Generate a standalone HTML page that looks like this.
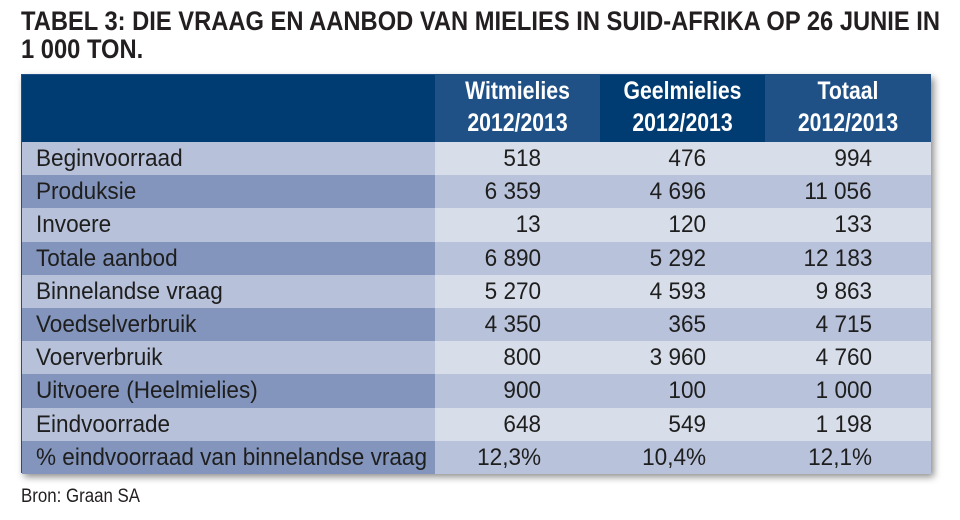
<!DOCTYPE html>
<html><head><meta charset="utf-8">
<style>
body{margin:0;width:960px;height:520px;background:#fff;position:relative;overflow:hidden;font-family:"Liberation Sans",sans-serif;}
.t{position:absolute;white-space:nowrap;line-height:1;}
.title{font-weight:bold;font-size:27px;color:#231f20;left:21px;transform-origin:0 0;}
#tbl{position:absolute;left:21px;top:74px;width:910px;height:399px;box-shadow:3px 4px 7px rgba(0,0,0,0.45);border:1px solid #1f4f86;box-sizing:border-box;}
.cell{position:absolute;}
.hd{color:#fff;font-weight:bold;font-size:25px;text-align:center;}
.lbl{font-size:24px;color:#1e1e1e;transform-origin:0 50%;}
.num{font-size:24px;color:#1e1e1e;transform-origin:100% 50%;}
</style></head><body>
<div class="t title" id="ti1" style="top:8px">TABEL 3: DIE VRAAG EN AANBOD VAN MIELIES IN SUID-AFRIKA OP 26 JUNIE IN</div>
<div class="t title" id="ti2" style="top:36px">1 000 TON.</div>
<div id="tbl"></div>
<div class="t" id="src" style="left:21px;top:487px;font-size:19px;color:#231f20;transform-origin:0 0">Bron: Graan SA</div>
<script>
const labels=["Beginvoorraad","Produksie","Invoere","Totale aanbod","Binnelandse vraag","Voedselverbruik","Voerverbruik","Uitvoere (Heelmielies)","Eindvoorrade","% eindvoorraad van binnelandse vraag"];
const witValues=["518","6 359","13","6 890","5 270","4 350","800","900","648","12,3%"];
const geelValues=["476","4 696","120","5 292","4 593","365","3 960","100","549","10,4%"];
const totaalValues=["994","11 056","133","12 183","9 863","4 715","4 760","1 000","1 198","12,1%"];
const headers=[["Witmielies","2012/2013"],["Geelmielies","2012/2013"],["Totaal","2012/2013"]];

const tbl=document.getElementById('tbl');
const colX=[0,413,578,743,909];
const headH=67, rowH=33.2;
const hdColors=["#003b71","#1f5187","#003b71","#1f5187"];
function mk(cls,css,txt){const d=document.createElement('div');d.className=cls;Object.assign(d.style,css);if(txt!==undefined)d.textContent=txt;tbl.appendChild(d);return d;}
const hdNodes=[];
for(let c=0;c<4;c++){
  const h=mk('cell',{left:colX[c]+'px',top:'0px',width:(colX[c+1]-colX[c])+'px',height:headH+'px',background:hdColors[c]});
  
  
  if(c>0){
    headers[c-1].forEach((s,i)=>{
      const t=document.createElement('div');t.className='t hd';
      t.style.left='0';t.style.width='100%';t.style.top=(4+i*32)+'px';
      t.textContent=s;
      
      
      h.appendChild(t);
      hdNodes.push(t);
    });
  }
}
const series=[witValues,geelValues,totaalValues];
const numRight=[541,706,872];
const lblNodes=[],numNodes=[];
labels.forEach((lab,r)=>{
  const y=headH+r*rowH;
  const dark=r%2===1;
  const lc=mk('cell',{left:'0px',top:y+'px',width:colX[1]+'px',height:(rowH+0.5)+'px',background:dark?'#8395bc':'#b7c1da'});
  
  
  const dc=mk('cell',{left:colX[1]+'px',top:y+'px',width:(colX[4]-colX[1])+'px',height:(rowH+0.5)+'px',background:dark?'#b8c2da':'#d8dee9'});
  
  
  const l=mk('t lbl',{left:'14px',top:(y+5)+'px'},lab);
  
  
  lblNodes.push(l);
  series.forEach((s,c)=>{
    const n=mk('t num',{right:(909-(numRight[c]-21))+'px',top:(y+5)+'px'},s[r]);
    
    
    numNodes.push(n);
  });
});
function fit(el,target){
  const r=document.createRange();r.selectNodeContents(el);
  const w=r.getBoundingClientRect().width;return target/w;}
const f1=fit(document.getElementById('ti1'),919);
document.getElementById('ti1').style.transform='scaleX('+f1+')';
document.getElementById('ti2').style.transform='scaleX('+f1+')';
const fl=fit(lblNodes[9],391);
lblNodes.forEach(n=>n.style.transform='scaleX('+fl+')');
numNodes.forEach(n=>n.style.transform='scaleX('+fl+')');
const fh=fit(hdNodes[2],118);
hdNodes.forEach(n=>n.style.transform='scaleX('+fh+')');
document.getElementById('src').style.transform='scaleX('+fit(document.getElementById('src'),119)+')';
</script>
</body></html>
